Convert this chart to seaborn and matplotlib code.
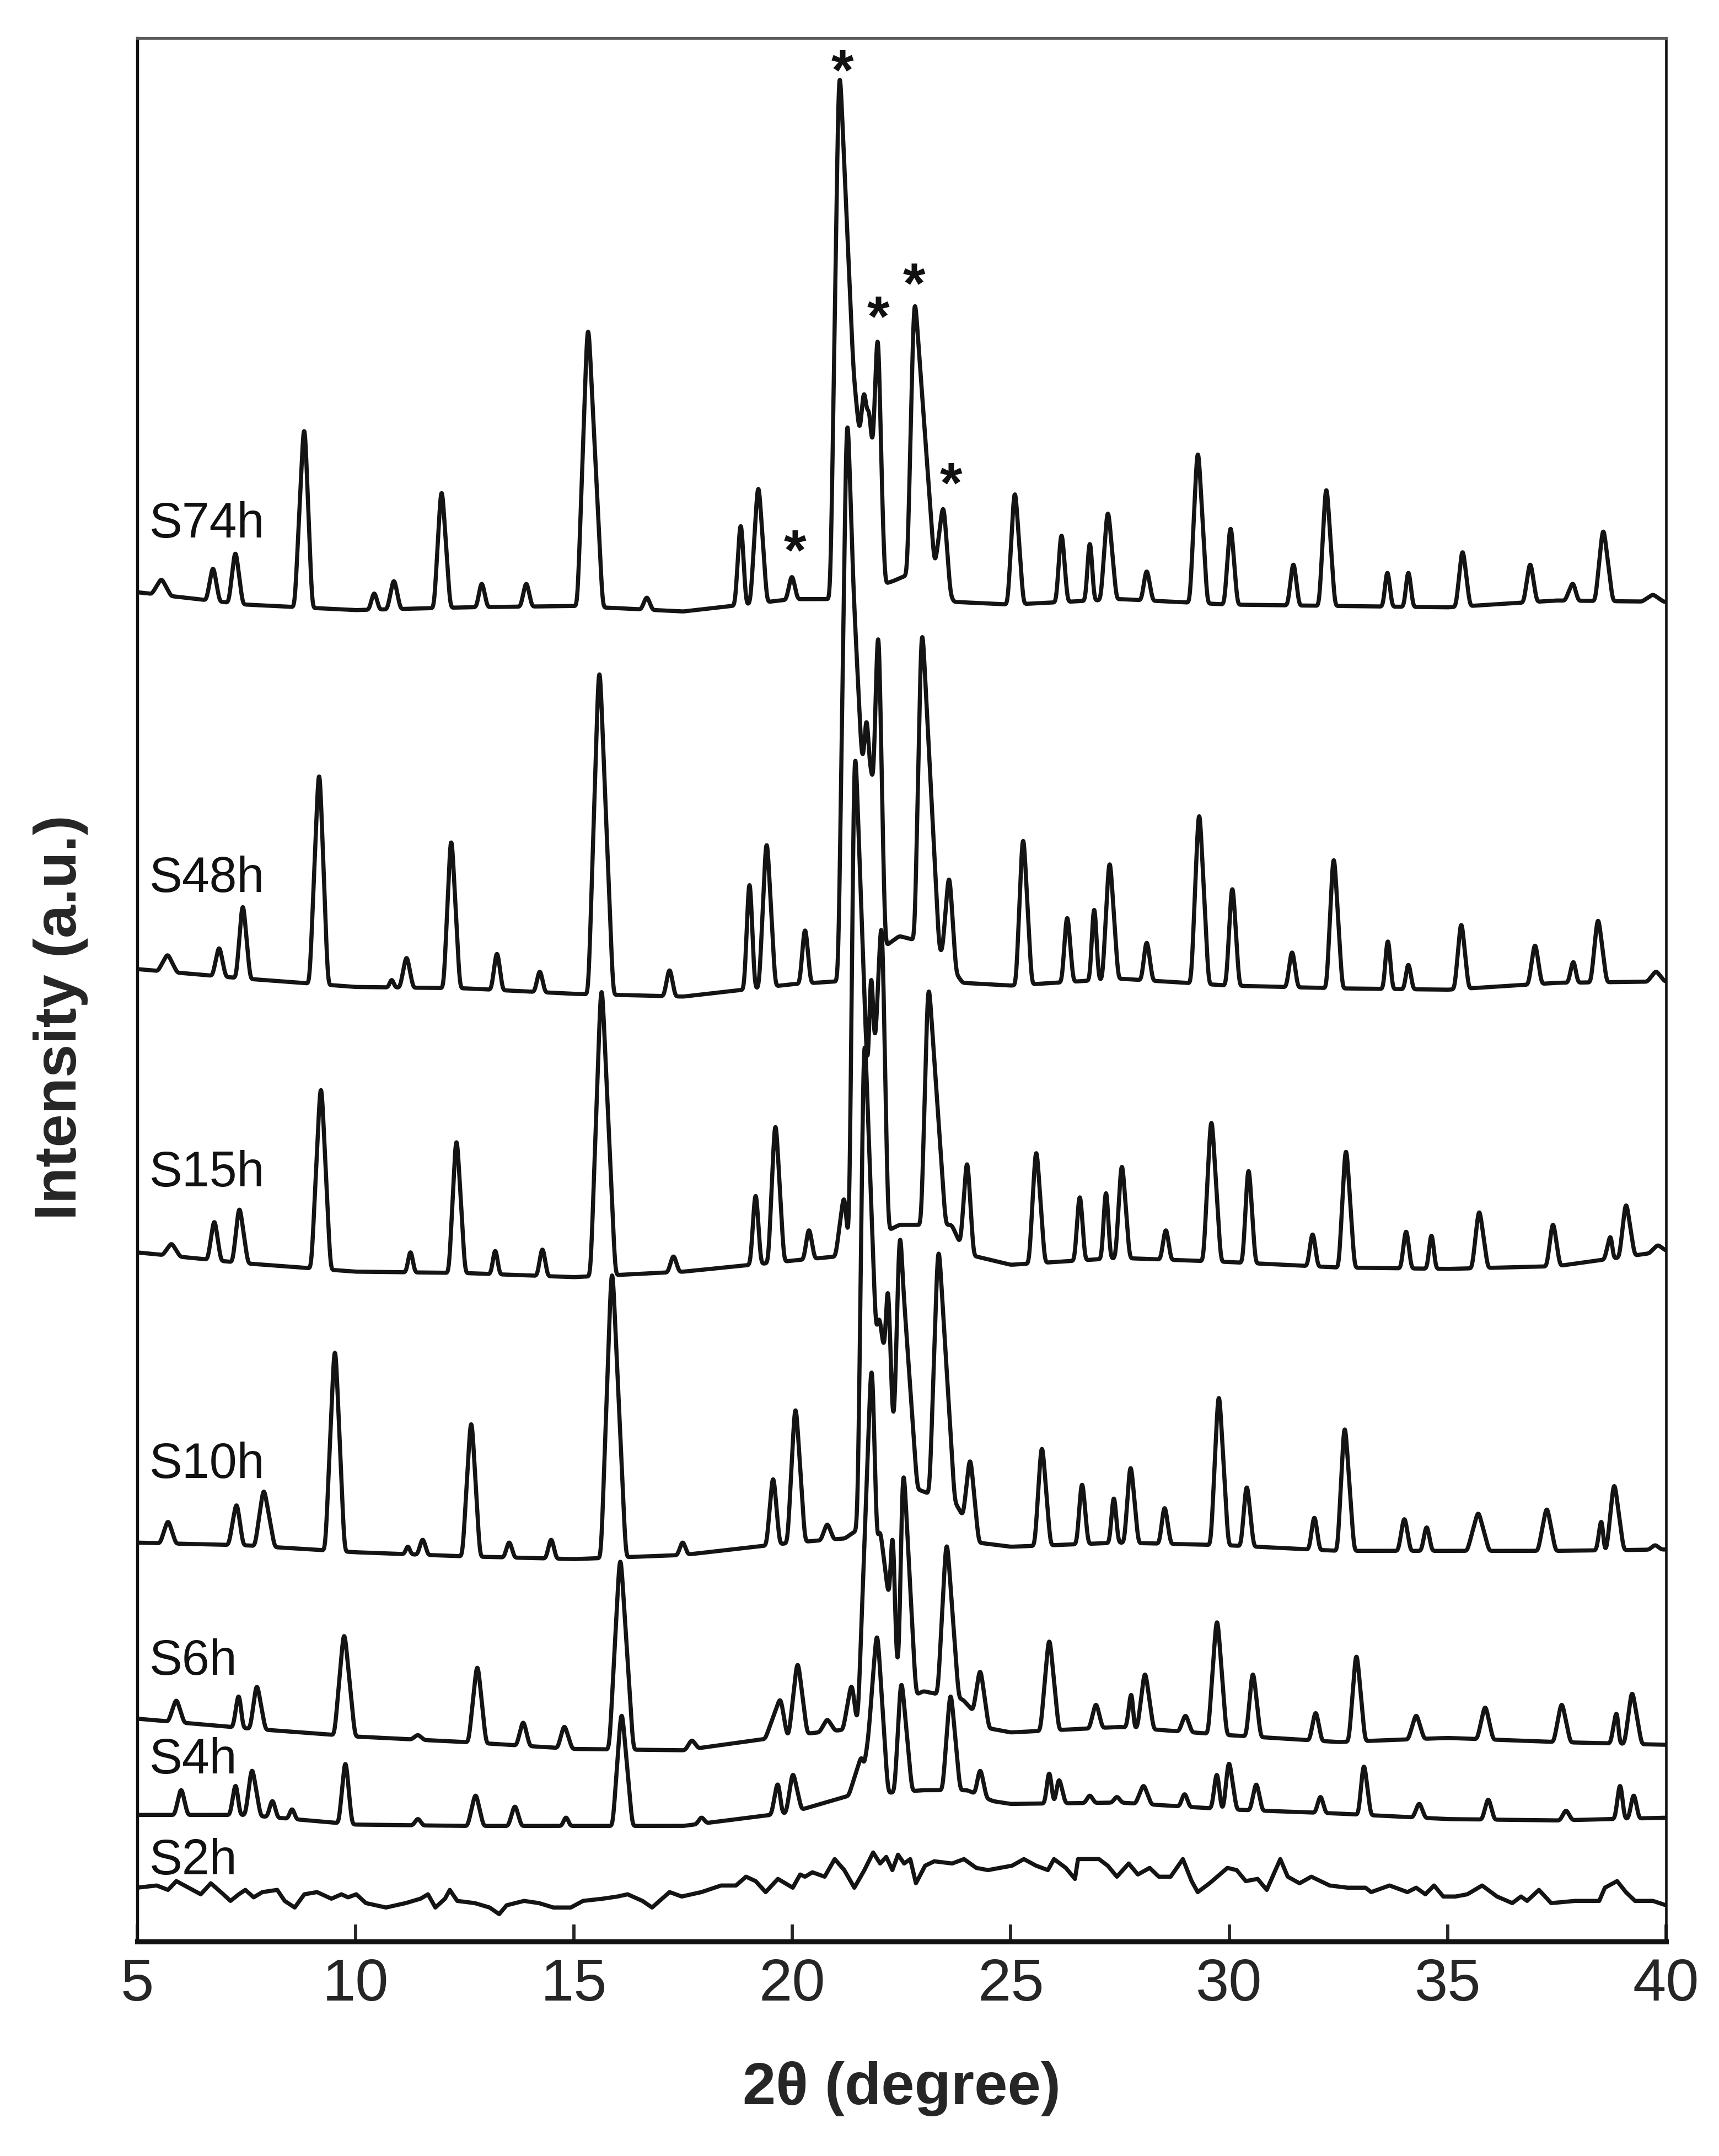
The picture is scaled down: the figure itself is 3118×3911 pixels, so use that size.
import numpy as np
import pandas as pd
import matplotlib
matplotlib.use('Agg')
import matplotlib.pyplot as plt
import seaborn as sns

# ============================================================
# DATA  (intensity in a.u.)
# ============================================================
# every pattern = background knots + peaks (position, top intensity,
# left / right foot half-width in degrees)

S74H_BG_X = [5, 7.5, 10, 12.5, 15, 17.5, 20, 21.0, 22.3, 23.25, 23.7, 25, 27.5, 30, 32.5, 35, 37.5, 40]
S74H_BG = [981, 972, 968, 970, 971, 967, 976, 976, 989, 1002, 974, 972, 976, 972, 971, 970, 975, 974]
S74H_PEAKS = [
    (5.56, 990, .22, .22), (6.74, 998, .15, .15), (7.25, 1009, .15, .17), (8.83, 1098, .22, .18),
    (10.43, 980, .12, .12), (10.88, 989, .15, .15), (11.97, 1053, .17, .2), (12.89, 987, .12, .13),
    (13.91, 987, .13, .13), (15.32, 1170, .24, .34), (16.67, 977, .13, .13), (18.82, 1029, .13, .12),
    (19.22, 1056, .18, .2), (19.99, 992, .13, .13), (21.07, 1348, .2, .55), (21.75, 1112, .35, .3),
    (21.63, 1124, .09, .09), (21.96, 1162, .12, .16), (22.79, 1185, .16, .46), (23.46, 1041, .19, .16),
    (25.09, 1052, .16, .2), (26.16, 1022, .12, .14), (26.81, 1016, .1, .1), (27.22, 1038, .16, .2),
    (28.11, 996, .12, .14), (29.28, 1081, .18, .22), (30.03, 1027, .14, .16), (31.47, 1001, .13, .13),
    (32.22, 1055, .16, .2), (33.62, 995, .1, .11), (34.10, 995, .1, .11), (35.34, 1010, .15, .17),
    (36.89, 1001, .15, .15), (37.87, 987, .18, .12), (38.56, 1025, .18, .22), (39.70, 979, .25, .25)]

S48H_BG_X = [5, 7.5, 10, 12.5, 15, 17.5, 20, 21.0, 22.45, 23.3, 23.9, 25, 27.5, 30, 32.5, 35, 37.5, 40]
S48H_BG = [707, 700, 694, 693, 689, 687, 696, 698, 731, 724, 697, 695, 700, 695, 693, 692, 697, 698]
S48H_PEAKS = [
    (5.70, 717, .22, .22), (6.88, 722, .15, .15), (7.42, 752, .15, .17), (9.17, 847, .22, .2),
    (10.83, 699, .08, .08), (11.17, 715, .15, .15), (12.19, 799, .17, .2), (13.24, 718, .13, .13),
    (14.22, 705, .12, .12), (15.58, 921, .25, .32), (17.19, 706, .13, .13), (19.02, 768, .12, .12),
    (19.41, 797, .17, .2), (20.29, 735, .12, .13), (21.25, 1097, .2, .42), (21.80, 852, .4, .3),
    (21.69, 886, .09, .09), (21.97, 946, .12, .16), (22.96, 945, .16, .4), (23.59, 772, .16, .16),
    (25.28, 800, .16, .2), (26.29, 744, .12, .14), (26.91, 750, .1, .1), (27.26, 783, .16, .2),
    (28.11, 726, .12, .14), (29.31, 818, .18, .22), (30.07, 765, .14, .16), (31.44, 719, .13, .13),
    (32.39, 786, .16, .2), (33.63, 727, .1, .11), (34.10, 710, .1, .11), (35.31, 739, .15, .17),
    (37.00, 724, .15, .15), (37.88, 712, .12, .1), (38.44, 742, .16, .2), (39.77, 705, .2, .2)]

S15H_BG_X = [5, 7.5, 10, 12.5, 15, 17.5, 20, 21.0, 22.45, 23.65, 23.95, 25, 27.5, 30, 32.5, 35, 37.5, 40]
S15H_BG = [501, 493, 487, 486, 483, 487, 495, 498, 521, 521, 500, 492, 497, 494, 490, 489, 491, 502]
S15H_PEAKS = [
    (5.79, 507, .2, .2), (6.77, 523, .15, .15), (7.34, 532, .15, .2), (9.21, 619, .22, .22),
    (11.26, 501, .1, .1), (12.31, 581, .17, .2), (13.20, 502, .1, .1), (14.28, 503, .12, .12),
    (15.63, 690, .25, .32), (17.28, 498, .13, .13), (19.16, 542, .12, .12), (19.61, 592, .16, .2),
    (20.38, 517, .12, .13), (21.19, 539, .2, .1), (21.42, 845, .12, .32), (21.88, 662, .5, .3),
    (21.80, 698, .08, .08), (22.05, 732, .16, .15), (23.11, 688, .16, .4), (24.00, 565, .15, .15),
    (25.58, 573, .16, .2), (26.58, 541, .12, .12), (27.18, 544, .1, .1), (27.54, 563, .14, .18),
    (28.55, 517, .12, .12), (29.59, 595, .18, .22), (30.44, 560, .13, .16), (31.91, 514, .12, .12),
    (32.67, 574, .16, .2), (34.05, 516, .12, .12), (34.63, 513, .1, .1), (35.72, 530, .16, .2),
    (37.41, 521, .14, .16), (38.74, 511, .15, .05), (39.08, 535, .15, .2), (39.81, 506, .2, .2)]

S10H_BG_X = [5, 7.5, 10, 12.5, 15, 17.5, 20, 21.2, 22.85, 23.75, 24.25, 25, 27.5, 30, 32.5, 35, 37.5, 40]
S10H_BG = [290, 288, 283, 280, 278, 281, 290, 293, 329, 318, 290, 287, 290, 288, 284, 284, 284, 285]
S10H_PEAKS = [
    (5.71, 305, .18, .18), (7.28, 317, .18, .15), (7.90, 327, .2, .25), (9.53, 428, .22, .22),
    (11.20, 287, .08, .08), (11.54, 292, .12, .12), (12.65, 376, .2, .2), (13.52, 290, .12, .12),
    (14.48, 292, .12, .12), (15.87, 484, .25, .32), (17.49, 290, .12, .12), (19.56, 336, .15, .15),
    (20.07, 386, .18, .22), (20.80, 303, .15, .15), (21.64, 642, .15, .28), (21.98, 452, .45, .55),
    (22.19, 471, .08, .1), (22.46, 509, .13, .4), (23.34, 499, .2, .38), (24.07, 349, .16, .2),
    (25.71, 358, .16, .2), (26.63, 332, .12, .14), (27.36, 322, .1, .1), (27.74, 344, .14, .18),
    (28.52, 315, .12, .14), (29.76, 395, .18, .22), (30.40, 330, .13, .16), (31.95, 308, .12, .12),
    (32.64, 372, .16, .22), (34.01, 307, .14, .14), (34.52, 301, .12, .12), (35.70, 311, .25, .25),
    (37.27, 314, .2, .2), (38.53, 304, .12, .05), (38.81, 331, .17, .22), (39.75, 288, .15, .15)]

S6H_BG_X = [5, 7.5, 10, 12.5, 15, 17.5, 20, 21.2, 23.0, 23.9, 24.5, 25, 27.5, 30, 32.5, 35, 37.5, 40]
S6H_BG = [162, 155, 149, 145, 140, 139, 150, 154, 182, 176, 155, 152, 156, 150, 145, 148, 145, 143]
S6H_PEAKS = [
    (5.90, 175, .18, .18), (7.33, 178, .13, .1), (7.74, 185, .15, .2), (9.74, 222, .22, .25),
    (11.43, 150, .15, .15), (12.79, 199, .2, .2), (13.84, 159, .15, .15), (14.78, 156, .15, .18),
    (16.06, 276, .25, .3), (17.70, 146, .15, .15), (19.73, 175, .35, .15), (20.12, 201, .2, .22),
    (20.80, 161, .18, .18), (21.36, 185, .2, .12), (21.82, 413, .32, .12), (22.00, 297, .5, .5),
    (22.30, 291, .08, .08), (22.53, 332, .1, .3), (23.53, 287, .2, .28), (24.30, 196, .16, .2),
    (25.88, 218, .2, .22), (26.95, 172, .15, .15), (27.77, 178, .12, .05), (28.07, 194, .17, .2),
    (29.00, 164, .15, .15), (29.72, 232, .2, .22), (30.54, 194, .15, .18), (31.98, 166, .14, .14),
    (32.91, 207, .17, .2), (34.28, 164, .18, .18), (35.86, 170, .18, .18), (37.61, 172, .18, .2),
    (38.88, 164, .15, .05), (39.22, 180, .17, .22)]

S4H_BG_X = [5, 7.5, 10, 12.5, 15, 17.5, 20, 21.3, 23.0, 24.0, 24.6, 25, 27.5, 30, 32.5, 35, 37.5, 40]
S4H_BG = [92, 92, 85, 84, 84, 84, 94, 106, 110, 110, 102, 100, 101, 96, 93, 89, 88, 90]
S4H_PEAKS = [
    (6.01, 110, .15, .15), (7.26, 113, .13, .1), (7.63, 124, .15, .2), (8.10, 102, .12, .12),
    (8.55, 96, .1, .1), (9.77, 129, .15, .15), (11.43, 89, .12, .12), (12.75, 106, .18, .18),
    (13.65, 98, .15, .15), (14.82, 90, .1, .1), (16.09, 164, .2, .25), (17.92, 90, .12, .12),
    (19.67, 114, .15, .1), (20.01, 121, .15, .2), (20.74, 98, .15, .15), (21.59, 133, .3, .15),
    (21.94, 221, .3, .25), (22.49, 186, .15, .25), (23.62, 178, .18, .22), (24.30, 124, .12, .15),
    (25.88, 122, .1, .1), (26.10, 117, .1, .15), (26.81, 106, .12, .12), (27.43, 105, .12, .12),
    (28.04, 113, .18, .18), (28.98, 107, .12, .12), (29.72, 121, .12, .1), (29.99, 129, .12, .18),
    (30.62, 114, .14, .14), (32.09, 105, .12, .12), (33.08, 127, .12, .16), (34.35, 100, .14, .14),
    (35.93, 103, .14, .14), (37.71, 95, .14, .14), (38.95, 113, .12, .1), (39.26, 106, .12, .12)]

# S2h is nearly amorphous: noisy trace, kept as read points
S2H_X = [5.0, 5.45, 5.71, 5.90, 6.18, 6.46, 6.69, 6.92, 7.14, 7.33,
         7.48, 7.67, 7.87, 8.21, 8.38, 8.61, 8.83, 9.12, 9.45, 9.68,
         9.83, 10.02, 10.24, 10.70, 11.15, 11.49, 11.66, 11.83, 12.05, 12.16,
         12.33, 12.73, 13.07, 13.29, 13.46, 13.86, 14.20, 14.53, 14.93, 15.21,
         15.66, 16.00, 16.23, 16.57, 16.79, 17.19, 17.47, 17.92, 18.37, 18.71,
         18.94, 19.16, 19.39, 19.67, 19.84, 20.01, 20.18, 20.29, 20.46, 20.74,
         20.97, 21.19, 21.42, 21.65, 21.85, 22.01, 22.15, 22.29, 22.42, 22.56,
         22.70, 22.83, 23.04, 23.25, 23.66, 23.93, 24.21, 24.48, 24.75, 25.03,
         25.30, 25.58, 25.85, 25.99, 26.26, 26.47, 26.54, 27.02, 27.22, 27.43,
         27.70, 27.91, 28.18, 28.39, 28.66, 28.94, 29.14, 29.28, 29.55, 29.96,
         30.17, 30.38, 30.65, 30.86, 31.17, 31.34, 31.61, 31.88, 32.30, 32.71,
         33.12, 33.25, 33.67, 34.08, 34.28, 34.49, 34.69, 34.90, 35.18, 35.45,
         35.79, 36.13, 36.48, 36.68, 36.82, 37.09, 37.37, 37.92, 38.47, 38.60,
         38.88, 39.08, 39.29, 39.70, 40.0]
S2H_Y = [39.1, 40.7, 37.5, 43.9, 39.1, 34.3, 42.3, 35.9, 29.5, 34.3,
         37.5, 32.1, 35.9, 37.5, 29.5, 24.7, 34.3, 35.9, 31.1, 34.3,
         32.1, 34.3, 27.9, 24.7, 27.9, 31.1, 34.3, 24.7, 31.1, 37.5,
         29.5, 27.9, 24.7, 19.9, 26.3, 29.5, 27.9, 24.7, 24.7, 29.5,
         31.1, 32.7, 34.3, 29.5, 24.7, 35.9, 32.7, 35.9, 40.7, 40.7,
         47.1, 43.9, 35.9, 45.5, 42.3, 39.1, 48.7, 47.1, 50.3, 47.1,
         59.9, 51.9, 39.1, 51.9, 64.7, 56.7, 61.5, 51.9, 63.1, 56.7,
         59.9, 42.3, 55.1, 58.3, 56.7, 59.9, 53.5, 51.9, 53.5, 55.1,
         59.9, 55.1, 51.9, 59.9, 53.5, 45.5, 59.9, 59.9, 55.1, 47.1,
         56.7, 48.7, 53.5, 47.1, 47.1, 59.9, 43.9, 35.9, 42.3, 53.5,
         51.9, 43.9, 45.5, 37.5, 59.9, 47.1, 42.3, 47.1, 40.7, 39.1,
         39.1, 35.9, 40.7, 35.9, 39.1, 34.3, 40.7, 32.7, 32.7, 34.3,
         40.7, 32.7, 27.9, 32.7, 29.5, 37.5, 27.9, 29.5, 29.5, 39.1,
         43.9, 35.9, 29.5, 29.5, 26.3]

# sample names with the intensity at which their text label sits
LABELS = [('S74h', 1021), ('S48h', 763), ('S15h', 549), ('S10h', 337),
          ('S6h', 194), ('S4h', 122), ('S2h', 49)]
# asterisks over the S74h reflections
STARS = [(20.06, 1008), (21.15, 1357), (21.96, 1178), (22.79, 1202), (23.63, 1057)]

# ============================================================
# BUILD THE PATTERNS
# ============================================================
STEP = 0.005
grid = np.arange(5.0, 40.0001, STEP)
kernel = np.exp(-0.5 * (np.arange(-16, 17) * STEP / 0.028) ** 2)
kernel /= kernel.sum()


def smooth(y):
    return np.convolve(np.pad(y, 16, mode='edge'), kernel, mode='valid')


def tri(x, c, bl, br):
    # asymmetric triangular peak shape, 1 at the top
    d = np.subtract.outer(np.asarray(x, float), c)
    return np.where(d < 0, np.clip(1 + d / bl, 0, 1), np.clip(1 - d / br, 0, 1))


def pattern(bg_x, bg_y, peaks):
    pos, top, bl, br = np.array(peaks, float).T
    # rounded peak shapes on the grid
    basis = np.apply_along_axis(smooth, 0, tri(grid, pos, bl, br))
    bg = smooth(np.interp(grid, bg_x, bg_y))
    idx = np.rint((pos - grid[0]) / STEP).astype(int)
    # heights so that the summed curve passes through every read peak top
    h = np.linalg.lstsq(basis[idx], top - bg[idx], rcond=None)[0]
    return bg + basis @ np.clip(h, 0, None)


curves = {
    'S74h': pattern(S74H_BG_X, S74H_BG, S74H_PEAKS),
    'S48h': pattern(S48H_BG_X, S48H_BG, S48H_PEAKS),
    'S15h': pattern(S15H_BG_X, S15H_BG, S15H_PEAKS),
    'S10h': pattern(S10H_BG_X, S10H_BG, S10H_PEAKS),
    'S6h': pattern(S6H_BG_X, S6H_BG, S6H_PEAKS),
    'S4h': pattern(S4H_BG_X, S4H_BG, S4H_PEAKS),
}

frames = [pd.DataFrame({'two_theta': grid, 'intensity': y, 'sample': name})
          for name, y in curves.items()]
frames.append(pd.DataFrame({'two_theta': S2H_X, 'intensity': S2H_Y, 'sample': 'S2h'}))
df = pd.concat(frames, ignore_index=True)

# ============================================================
# PLOT
# ============================================================
sns.set_style('white')
plt.rcParams['font.family'] = ['Liberation Sans', 'DejaVu Sans']

fig = plt.figure(figsize=(3118 / 300, 3911 / 300), dpi=300)
ax = fig.add_axes([0.0797, 0.0995, 0.8895, 0.8829])

sns.lineplot(data=df, x='two_theta', y='intensity', units='sample', estimator=None,
             sort=False, color='#141414', lw=1.8, ax=ax, legend=False)

for name, yl in LABELS:
    ax.text(5.28, yl, name, fontsize=21.5, ha='left', va='baseline', color='#111111')

for xs, ys in STARS:
    ax.text(xs, ys, '*', fontsize=25, fontweight='bold', ha='center', va='center',
            color='#111111')

ax.set_xlim(5, 40)
ax.set_ylim(0, 1384)
ax.set_xticks(range(5, 41, 5))
ax.set_yticks([])
ax.tick_params(axis='x', direction='in', length=7.5, width=1.4, pad=7,
               labelsize=26, bottom=True, top=False)
ax.set_xlabel('2θ (degree)', fontsize=26, fontweight='bold', labelpad=21)
ax.set_ylabel('Intensity (a.u.)', fontsize=26, fontweight='bold')
ax.yaxis.set_label_coords(-0.032, 0.4855)

for side, lw in [('left', 1.3), ('bottom', 2.2), ('right', 1.1), ('top', 1.2)]:
    ax.spines[side].set_linewidth(lw)
    ax.spines[side].set_color('#111111')
ax.spines['top'].set_color('#5a5a5a')

fig.savefig('out.png', dpi=300, facecolor='white')
plt.close(fig)
print("Saved: out.png")
